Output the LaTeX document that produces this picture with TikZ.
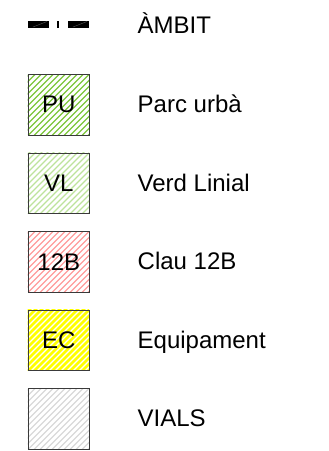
\documentclass[tikz,border=0pt]{standalone}
\usepackage{fontspec}
\setmainfont{Liberation Sans}
\definecolor{framegray}{HTML}{3A3A3A}
\definecolor{pugreen}{HTML}{7CC63A}
\definecolor{vlgreen}{HTML}{BDE39B}
\definecolor{clred}{HTML}{FF9C9C}
\definecolor{ecyellow}{HTML}{FFFF00}
\definecolor{vigray}{HTML}{D8D8D8}
\tikzset{
  legframe/.style={draw=framegray, line width=1.1pt, inner sep=0pt, minimum width=61.5pt, minimum height=60.5pt, anchor=north west},
  code/.style={font=\fontsize{24}{28}\selectfont, inner sep=0pt},
  lab/.style={font=\fontsize{24}{28}\selectfont, anchor=base west, inner sep=0pt},
  dashbar/.style={fill=black, draw=none},
}
\newcommand\legbox[5]{%
  \begin{scope}
    \clip (27.5,#2) rectangle (89,#2+60.5);
    \foreach \k in {-12,...,12} {
      \draw[#3, line width=#4] (27.5+\k*6,#2+62) -- ++(64,-64);
    }
  \end{scope}
  \node[legframe] (#1) at (27.5,#2) {};
  \node[code] (#1txt) at (#1.center) {#5};
}
\begin{document}
\begin{tikzpicture}[x=1pt,y=-1pt]
  \useasboundingbox (0,0) rectangle (329,451);
  % ambit line
  \fill[dashbar] (27.5,20.5) rectangle (49,27.5);
  \fill[dashbar] (57.3,20.5) rectangle (58.7,27.5);
  \fill[dashbar] (67.7,20.5) rectangle (89,27.5);
  \draw[gray!60!black, line width=0.5pt] (33,27) -- (47,21.5);
  \draw[gray!60!black, line width=0.5pt] (73,27) -- (87,21.5);
  \coordinate (amb) at (89,24);
  \node[lab] (lamb) at (137.5,33.5) {ÀMBIT};
  % boxes
  \legbox{pu}{74}{pugreen}{1.2pt}{PU}
  \legbox{vl}{152.5}{vlgreen}{1.2pt}{VL}
  \legbox{cl}{231}{clred}{1.2pt}{12B}
  \legbox{ec}{309.5}{ecyellow}{2.6pt}{EC}
  \legbox{vi}{388}{vigray}{1.2pt}{}
  % labels
  \node[lab] (lpu) at (137.5,112.5) {Parc urbà};
  \node[lab] (lvl) at (137.5,191) {Verd Linial};
  \node[lab] (lcl) at (137.5,269.5) {Clau 12B};
  \node[lab] (lec) at (137.5,348) {Equipament};
  \node[lab] (lvi) at (137.5,426.5) {VIALS};
\end{tikzpicture}
\end{document}
